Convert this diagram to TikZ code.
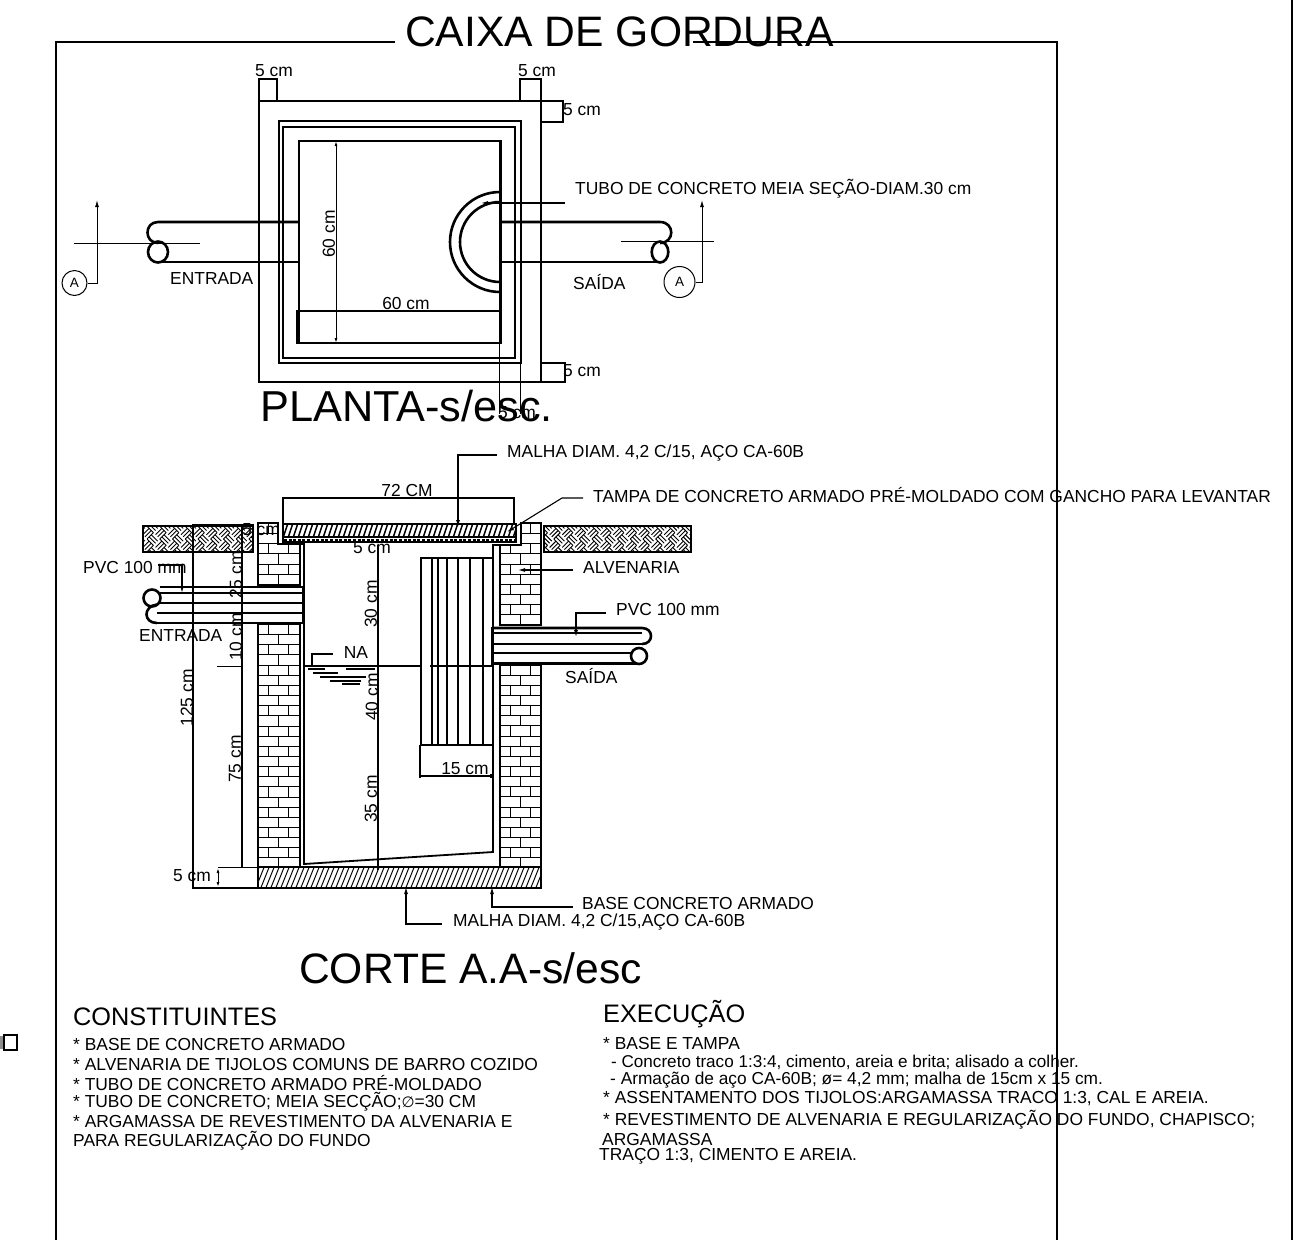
\documentclass[tikz,border=0pt]{standalone}
\usepackage{fontspec}
\setmainfont{Liberation Sans}
\newfontfamily\dejavu{DejaVu Sans}
\usetikzlibrary{arrows.meta}
\tikzset{
  x=1pt,y=-1pt,
  heavy/.style={line width=2.6pt,black},
  medium/.style={line width=1.8pt,black},
  thin line/.style={line width=1pt,black},
  hair/.style={line width=.7pt,black},
  dimline/.style={line width=1.2pt,black},
  leader/.style={line width=1.1pt,black},
  arr/.style={-{Latex[length=7pt,width=4pt]}},
  lbl/.style={anchor=west,inner sep=0pt,yshift=-1pt,font=\fontsize{17.4}{17.4}\selectfont},
  lblc/.style={inner sep=0pt,yshift=-1pt,font=\fontsize{17.4}{17.4}\selectfont},
  vlbl/.style={inner sep=0pt,rotate=90,font=\fontsize{17.4}{17.4}\selectfont},
  bigt/.style={anchor=west,inner sep=0pt,font=\fontsize{42.6}{42.6}\selectfont},
  head/.style={anchor=west,inner sep=0pt,font=\fontsize{25.3}{25.3}\selectfont},
}
% brick courses: x0, first y, rows
\newcommand{\brickrows}[3]{%
  \foreach \i in {0,...,#3}{%
    \pgfmathsetmacro{\ya}{#2+10.15*\i}%
    \pgfmathsetmacro{\yb}{\ya+10.15}%
    \draw[thin line] (#1,\yb) -- ++(42,0);
    \pgfmathparse{int(mod(\i,2))}%
    \ifnum\pgfmathresult=0
      \draw[thin line] (#1+10,\ya) -- (#1+10,\yb) (#1+30,\ya) -- (#1+30,\yb);
    \else
      \draw[thin line] (#1+20,\ya) -- (#1+20,\yb);
    \fi
  }%
}
% ground weave: x0,y0,x1,y1
\newcommand{\weave}[4]{%
  \begin{scope}
    \clip (#1,#2) rectangle (#3,#4);
    \begin{scope}[shift={({(#1+#3)/2},{(#2+#4)/2})},rotate=45,x=1pt,y=1pt]
      \foreach \i in {-8,...,8}{\foreach \j in {-8,...,8}{%
        \pgfmathsetmacro{\u}{\i*9}\pgfmathsetmacro{\v}{\j*9}%
        \pgfmathparse{int(mod(\i+\j+40,2))}%
        \ifnum\pgfmathresult=0
          \foreach \k in {0,3,6}{\draw[line width=.9pt] (\u,\v+\k) -- ++(9,0);}
        \else
          \foreach \k in {0,3,6}{\draw[line width=.9pt] (\u+\k,\v) -- ++(0,9);}
        \fi
      }}
    \end{scope}
  \end{scope}
  \draw[heavy] (#1,#2) rectangle (#3,#4);
}
\begin{document}
\begin{tikzpicture}
\useasboundingbox (0,0) rectangle (1299,1240);
\fill[white] (0,0) rectangle (1299,1240);

% --- sheet frame
\draw[heavy] (395,42) -- (56,42) -- (56,1240);
\draw[heavy] (693,42) -- (1057,42) -- (1057,1240);
\draw[heavy] (1292,0) -- (1292,1240);
\fill[black!45] (0,1036) rectangle (4,1049);
\draw[line width=1.5pt] (4,1035) rectangle (17,1050);

\node[bigt] (title) at (405,32) {CAIXA DE GORDURA};
\node[bigt,font=\fontsize{43.3}{43.3}\selectfont] (planta) at (260,406) {PLANTA-s/esc.};
\node[bigt] (corte) at (299,968) {CORTE A.A-s/esc};

% --- PLANTA
\draw[heavy] (259,101) rectangle (541,382);
\draw[heavy] (279,121) rectangle (521,363);
\draw[heavy] (283,127) rectangle (515,358);
\draw[heavy] (299,141) rectangle (500.5,343);
\draw[heavy] (297,311) rectangle (500.5,343);
\draw[white,line width=1.9pt] (298.5,311) -- (499,311);
\draw[dimline] (297,311) -- (500,311);
% half tube
\draw[heavy] (500,192) arc[start angle=90,end angle=270,radius=50pt];
\draw[heavy] (500,202) arc[start angle=90,end angle=270,radius=40pt];
% pipes
\draw[heavy] (299,222) -- (158,222) .. controls (144,222) and (144,243) .. (158,243);
\draw[heavy] (299,262) -- (158,262);
\draw[heavy] (158,252) ellipse[x radius=10pt,y radius=10.5pt];
\draw[heavy] (500,222) -- (660,222) .. controls (675,222) and (675,243) .. (660,243);
\draw[heavy] (500,262) -- (660,262);
\draw[heavy] (660,252) ellipse[x radius=8.3pt,y radius=10.5pt];
% section marks
\draw[thin line] (74,243) -- (200,243);
\draw[thin line] (621,241) -- (714,241);
\node[draw,circle,line width=1pt,minimum size=25pt,inner sep=0pt,font=\fontsize{13.5}{13.5}\selectfont] (markA) at (74.5,283) {A};
\node[draw,circle,line width=1pt,minimum size=31pt,inner sep=0pt,font=\fontsize{13.5}{13.5}\selectfont] (markB) at (679.5,282) {A};
\coordinate (tipA) at (97,200);
\coordinate (tipB) at (702,200);
\draw[thin line,arr] (markA.east) -- (97,283) -- (tipA);
\draw[thin line,arr] (markB.east) -- (702,282) -- (tipB);
% dimensions
\draw[dimline] (259,101) -- (259,79) -- (277,79) -- (277,101);
\draw[dimline] (520,101) -- (520,79) -- (541,79) -- (541,101);
\draw[dimline] (541,101) -- (563,101) -- (563,122) -- (541,122);
\draw[dimline] (541,363) -- (565,363) -- (565,382) -- (541,382);
\draw[thin line,{Latex[length=5pt,width=3pt]}-{Latex[length=5pt,width=3pt]}] (336,141) -- (336,343);
\draw[thin line] (499,343) -- (499,414);
\draw[thin line] (520,363) -- (520,414);
\coordinate (tubetip) at (481,203);
\draw[leader,arr] (565,203) -- (tubetip);

\node[lblc] (d1) at (274,70) {5 cm};
\node[lblc] (d2) at (537,70) {5 cm};
\node[lbl] (d3) at (563,109) {5 cm};
\node[lbl] (d4) at (563,370) {5 cm};
\node[lblc] (d5) at (517,412) {5 cm};
\node[vlbl] (d6) at (329,234) {60 cm};
\node[lblc] (d7) at (406,303) {60 cm};
\node[lbl] (t1) at (575,188) {TUBO DE CONCRETO MEIA SEÇÃO-DIAM.30 cm};
\node[lbl] (t2) at (170,278) {ENTRADA};
\node[lbl] (t3) at (573,281) {SAÍDA};

% --- CORTE: ground
\weave{143}{526}{253}{552}
\weave{544}{526}{691}{552}

% walls
\begin{scope}
  \clip (258,523) -- (278,523) -- (278,544) -- (300,544) -- (300,585) -- (258,585) -- cycle;
  \brickrows{258}{523.5}{5}
\end{scope}
\begin{scope}
  \clip (258,624) rectangle (300,866);
  \brickrows{258}{624.5}{24}
\end{scope}
\begin{scope}
  \clip (521,523) -- (541,523) -- (541,625) -- (500,625) -- (500,545) -- (521,545) -- cycle;
  \brickrows{500}{523.5}{10}
\end{scope}
\begin{scope}
  \clip (500,665) rectangle (541,866);
  \brickrows{500}{665}{20}
\end{scope}
\draw[heavy] (283,585) -- (258,585) -- (258,523) -- (278,523) -- (278,544) -- (300,544) -- (300,585) -- cycle;
\draw[heavy] (258,624) -- (300,624) -- (300,866);
\draw[heavy] (258,624) -- (258,866);
\draw[heavy] (521,523) -- (541,523) -- (541,625) -- (500,625) -- (500,545) -- (521,545) -- cycle;
\draw[heavy] (500,665) -- (541,665) -- (541,866);
\draw[heavy] (500,665) -- (500,866);
\draw[medium] (300,544) -- (304,544) -- (304,587);
\draw[medium] (304,623) -- (304,864) -- (493,852) -- (493,664);
\draw[medium] (493,627) -- (493,545) -- (500,545);

% base slab
\begin{scope}
  \clip (258,867) rectangle (541,888);
  \foreach \i in {0,...,62}{\draw[line width=1pt] (250+\i*5,890) -- ++(10,-25);}
\end{scope}
\draw[heavy] (258,867) -- (541,867);
\draw[medium] (258,867) rectangle (541,888);

% lid
\begin{scope}
  \clip (283,525) rectangle (516,537);
  \foreach \i in {0,...,50}{\draw[line width=1.5pt] (278+\i*5,538) -- ++(5,-15);}
\end{scope}
\draw[medium] (283,524) rectangle (516,542);
\draw[medium] (283,537) -- (516,537);
\draw[line width=2pt,dash pattern=on 3pt off 1.6pt] (284,539.5) -- (515,539.5);

% baffle
\draw[heavy] (492,558) -- (421,558) -- (421,745) -- (492,745);
\foreach \xx in {432,438,447,458,470,483}{\draw[medium] (\xx,558) -- (\xx,745);}

% pipes in section
\draw[heavy] (303,587) -- (160,587);
\draw[medium] (303,593) -- (160,593);
\draw[heavy] (303,603) -- (160,603);
\draw[heavy] (303,613) -- (157,613);
\draw[heavy] (303,623) -- (157,623);
\draw[line width=3pt] (303,587) -- (303,623);
\draw[heavy] (152,598) circle[radius=8.5pt];
\draw[heavy] (157,604.5) .. controls (143,606) and (143,623) .. (157,623);
\draw[heavy] (492,628) -- (642,628) .. controls (654,628) and (654,644) .. (642,644);
\draw[medium] (492,633) -- (642,633);
\draw[heavy] (492,644) -- (642,644);
\draw[medium] (492,653) -- (633,653);
\draw[heavy] (492,663.5) -- (636,663.5);
\draw[line width=3pt] (492,627) -- (492,665);
\draw[heavy] (639,656) circle[radius=8pt];

% water
\draw[medium] (304,666) -- (421,666);
\draw[medium] (430,666) -- (492,666);
\foreach \xa/\xb/\yy in {308/325/669,346/375/669,313/338/673,320/366/677,330/361/681,342/360/684}{\draw[line width=2pt] (\xa,\yy) -- (\xb,\yy);}
\coordinate (naend) at (312,666);
\draw[leader] (333,654) -- (312,654) -- (naend);
\node[lblc] (na) at (356,652) {NA};

% section dimensions
\draw[dimline] (193,524) -- (193,888) -- (258,888);
\draw[dimline] (242,524) -- (242,867);
\draw[thin line] (193,524) -- (254,524);
\draw[thin line] (217,666) -- (242,666);
\draw[thin line] (218,867) -- (258,867);
\draw[thin line,{Latex[length=5pt,width=3pt]}-{Latex[length=5pt,width=3pt]}] (218,868) -- (218,887);
\draw[dimline] (378,545) -- (378,867);
\foreach \yy in {562,666,745,867}{\draw[line width=2pt] (378,\yy-2.5) -- (378,\yy+2.5);}
\draw[line width=2pt] (242,662) -- (242,670);
\draw[line width=2pt] (242,862) -- (242,867);
\draw[dimline] (283,524) -- (283,498) -- (514,498) -- (514,524);
\draw[dimline] (420,745) -- (420,776) -- (493,776);
\draw[line width=2pt] (420,774) -- (420,778) (491,774) -- (491,778);

% leaders
\coordinate (lidmesh) at (458,527);
\coordinate (lidtip) at (507,532);
\coordinate (alv) at (518,570);
\coordinate (pvcr) at (576,637);
\coordinate (pvcl) at (182,593);
\coordinate (basea) at (406,887);
\coordinate (baseb) at (492,887);
\draw[leader,arr] (497,455) -- (458,455) -- (lidmesh);
\draw[leader,arr] (583,498) -- (562,498) -- (lidtip);
\draw[leader,arr] (573,570) -- (alv);
\draw[leader,arr] (606,613) -- (576,613) -- (pvcr);
\draw[leader,arr] (158,565) -- (182,565) -- (pvcl);
\draw[leader,arr] (442,924) -- (406,924) -- (basea);
\draw[leader,arr] (573,907) -- (492,907) -- (baseb);

\node[lblc] (c1) at (407,490) {72 CM};
\node[lbl] (c2) at (507,452) {MALHA DIAM. 4,2 C/15, AÇO CA-60B};
\node[lbl] (c3) at (593,494) {TAMPA DE CONCRETO ARMADO PRÉ-MOLDADO COM GANCHO PARA LEVANTAR};
\node[lbl] (c4) at (583,567) {ALVENARIA};
\node[lbl] (c5) at (616,609) {PVC 100 mm};
\node[lbl] (c6) at (565,675) {SAÍDA};
\node[lbl] (c7) at (83,567) {PVC 100 mm};
\node[lbl] (c8) at (139,635) {ENTRADA};
\node[lblc] (c9) at (261,529) {5 cm};
\node[lblc] (c10) at (372,547) {5 cm};
\node[vlbl] (c11) at (236,575) {25 cm};
\node[vlbl] (c12) at (236,637) {10 cm};
\node[vlbl] (c13) at (187,698) {125 cm};
\node[vlbl] (c14) at (235,759) {75 cm};
\node[vlbl] (c15) at (371,604) {30 cm};
\node[vlbl] (c16) at (372,697) {40 cm};
\node[vlbl] (c17) at (371,799) {35 cm};
\node[lblc] (c18) at (192,875) {5 cm};
\node[lblc] (c19) at (465,768) {15 cm};
\node[lbl] (c20) at (582,902) {BASE CONCRETO ARMADO};
\node[lbl] (c21) at (453,921) {MALHA DIAM. 4,2 C/15,AÇO CA-60B};

% --- notes
\node[head] (h1) at (73,1017) {CONSTITUINTES};
\node[head] (h2) at (603,1014) {EXECUÇÃO};
\node[lbl] (n1) at (73,1043) {* BASE DE CONCRETO ARMADO};
\node[lbl] (n2) at (73,1063) {* ALVENARIA DE TIJOLOS COMUNS DE BARRO COZIDO};
\node[lbl] (n3) at (73,1082) {* TUBO DE CONCRETO ARMADO PRÉ-MOLDADO};
\node[lbl] (n4) at (73,1101) {* TUBO DE CONCRETO; MEIA SECÇÃO;{\dejavu\fontsize{15}{15}\selectfont ∅}=30 CM};
\node[lbl] (n5) at (73,1120) {* ARGAMASSA DE REVESTIMENTO DA ALVENARIA E};
\node[lbl] (n6) at (73,1140) {PARA REGULARIZAÇÃO DO FUNDO};
\node[lbl] (e1) at (603,1042) {* BASE E TAMPA};
\node[lbl,font=\fontsize{17.1}{17.1}\selectfont] (e2) at (611,1061) {- Concreto traco 1:3:4, cimento, areia e brita; alisado a colher.};
\node[lbl,font=\fontsize{17.3}{17.3}\selectfont] (e3) at (610,1079) {- Armação de aço CA-60B; ø= 4,2 mm; malha de 15cm x 15 cm.};
\node[lbl] (e4) at (603,1098) {* ASSENTAMENTO DOS TIJOLOS:ARGAMASSA TRACO 1:3, CAL E AREIA.};
\node[lbl] (e5) at (603,1119) {* REVESTIMENTO DE ALVENARIA E REGULARIZAÇÃO DO FUNDO, CHAPISCO;};
\node[lbl] (e6) at (602,1138) {ARGAMASSA};
\node[lbl] (e7) at (599,1155) {TRAÇO 1:3, CIMENTO E AREIA.};
\end{tikzpicture}
\end{document}
